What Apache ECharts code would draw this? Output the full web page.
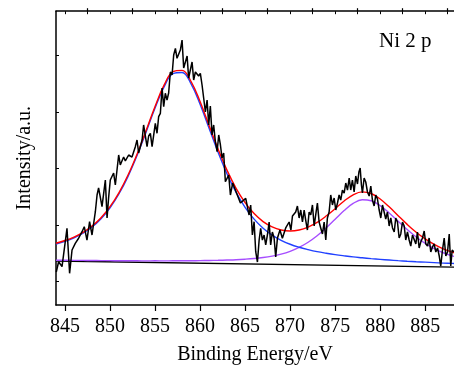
<!DOCTYPE html>
<html>
<head>
<meta charset="utf-8">
<style>
  html, body { margin: 0; padding: 0; background: #fff; }
  #chart { width: 454px; height: 370px; }
</style>
<script src="https://cdn.jsdelivr.net/npm/echarts@6.0.0/dist/echarts.min.js"></script>
</head>
<body>
<div id="chart"></div>
<script>
// Ni 2p XPS spectrum: raw counts, fitted components, linear background

// measured spectrum (binding energy in eV, intensity in a.u.)
const rawEnergy = [
  844.03, 844.29, 844.67, 845.03, 845.22, 845.51, 845.78, 846.14, 846.51, 846.89,
  847.14, 847.44, 847.73, 848.00, 848.37, 848.56, 848.73, 849.11, 849.48, 849.67,
  849.84, 850.03, 850.40, 850.59, 850.96, 851.14, 851.51, 851.70, 852.07, 852.44,
  852.81, 853.00, 853.18, 853.56, 853.73, 854.11, 854.29, 854.48, 854.67, 855.03,
  855.22, 855.40, 855.59, 855.78, 855.96, 856.14, 856.33, 856.51, 856.70, 856.89,
  857.07, 857.26, 857.44, 857.62, 857.81, 858.00, 858.18, 858.56, 858.73, 859.11,
  859.29, 859.48, 859.84, 860.03, 860.22, 860.40, 860.59, 860.78, 860.96, 861.14,
  861.33, 861.51, 861.70, 861.89, 862.07, 862.26, 862.44, 862.62, 862.81, 863.18,
  863.37, 863.62, 863.92, 864.14, 864.48, 864.70, 865.07, 865.44, 865.62, 865.81,
  866.00, 866.18, 866.37, 866.56, 866.73, 866.92, 867.11, 867.29, 867.48, 867.67,
  867.84, 868.03, 868.22, 868.40, 868.59, 868.87, 869.14, 869.51, 869.89, 870.09,
  870.26, 870.62, 870.81, 871.00, 871.18, 871.37, 871.56, 871.73, 871.92, 872.11,
  872.29, 872.48, 872.67, 872.84, 873.03, 873.22, 873.40, 873.59, 873.78, 873.96,
  874.14, 874.33, 874.51, 874.70, 874.89, 875.07, 875.26, 875.44, 875.62, 875.81,
  876.00, 876.18, 876.37, 876.56, 876.73, 876.92, 877.11, 877.29, 877.48, 877.64,
  877.78, 877.92, 878.03, 878.22, 878.40, 878.59, 878.78, 878.96, 879.14, 879.33,
  879.51, 879.70, 879.89, 880.07, 880.26, 880.44, 880.62, 880.81, 881.00, 881.18,
  881.37, 881.56, 881.73, 881.92, 882.11, 882.29, 882.48, 882.67, 882.84, 883.03,
  883.22, 883.40, 883.59, 883.78, 883.96, 884.14, 884.33, 884.51, 884.70, 884.89,
  885.07, 885.26, 885.44, 885.62, 885.81, 886.00, 886.18, 886.37, 886.56, 886.73,
  886.92, 887.11, 887.29, 887.48, 887.67, 887.84, 888.00, 888.18
];
const rawIntensity = [
  0.584, 0.766, 0.678, 1.120, 1.358, 0.561, 0.973, 1.092, 1.181, 1.297,
  1.386, 1.150, 1.474, 1.239, 1.651, 1.947, 2.071, 1.740, 2.212, 1.540,
  1.894, 2.212, 2.336, 2.124, 2.655, 2.478, 2.619, 2.549, 2.655, 2.619,
  2.802, 2.920, 2.690, 2.920, 3.186, 2.802, 2.991, 3.039, 2.802, 3.216,
  3.039, 3.333, 3.393, 3.841, 3.510, 3.747, 3.628, 3.752, 4.124, 4.071,
  4.425, 4.543, 4.366, 4.395, 4.513, 4.690, 4.195, 4.407, 4.018, 4.301,
  3.982, 4.124, 4.053, 4.101, 3.894, 3.924, 3.416, 3.628, 3.186, 3.522,
  3.009, 3.186, 2.890, 2.713, 3.009, 2.832, 2.602, 2.690, 2.182, 2.301,
  1.947, 2.159, 2.035, 2.005, 1.805, 1.770, 1.888, 1.593, 1.770, 1.239,
  1.474, 0.943, 0.761, 1.150, 1.358, 1.150, 1.239, 1.062, 1.239, 1.469,
  1.062, 1.292, 1.186, 0.850, 1.181, 1.327, 1.181, 1.363, 1.469, 1.327,
  1.575, 1.646, 1.752, 1.540, 1.681, 1.469, 1.681, 1.504, 1.327, 1.646,
  1.593, 1.770, 1.398, 1.593, 1.805, 1.469, 1.363, 1.257, 1.469, 1.150,
  1.540, 1.646, 1.947, 1.770, 1.894, 1.681, 1.805, 1.947, 1.858, 2.035,
  1.982, 2.159, 2.035, 2.248, 2.035, 2.212, 2.000, 2.283, 2.142, 2.354,
  2.425, 2.124, 1.982, 2.248, 2.177, 2.000, 1.929, 2.106, 1.858, 1.752,
  1.947, 1.876, 1.681, 1.540, 1.770, 1.752, 1.522, 1.646, 1.398, 1.540,
  1.363, 1.292, 1.540, 1.469, 1.186, 1.257, 1.469, 1.398, 1.150, 1.292,
  1.150, 1.044, 1.239, 1.221, 1.080, 1.292, 1.009, 1.115, 1.186, 1.310,
  1.080, 1.044, 1.186, 0.938, 1.027, 1.080, 0.938, 1.009, 0.867, 0.690,
  0.973, 1.186, 0.867, 0.938, 1.257, 0.690, 0.973, 0.938
];

// fitted curves, sampled every 1 eV
const fitEnergy = [
  844, 845, 846, 847, 848, 849, 850, 851, 852, 853, 854, 855, 856, 857, 858, 859,
  860, 861, 862, 863, 864, 865, 866, 867, 868, 869, 870, 871, 872, 873, 874, 875,
  876, 877, 878, 879, 880, 881, 882, 883, 884, 885, 886, 887, 888, 889
];
// Ni 2p3/2 component (blue)
const fitNi2p32 = [
  1.080, 1.127, 1.188, 1.270, 1.380, 1.527, 1.720, 1.969, 2.277, 2.645, 3.059, 3.486,
  3.860, 4.096, 4.116, 3.915, 3.555, 3.128, 2.703, 2.319, 1.993, 1.729, 1.520, 1.359,
  1.237, 1.146, 1.075, 1.022, 0.980, 0.944, 0.916, 0.891, 0.870, 0.851, 0.836, 0.821,
  0.808, 0.796, 0.785, 0.775, 0.766, 0.758, 0.750, 0.742, 0.736, 0.729
];
// Ni 2p1/2 component (violet)
const fitNi2p12 = [
  0.793, 0.792, 0.790, 0.789, 0.787, 0.786, 0.785, 0.784, 0.783, 0.782, 0.781, 0.782,
  0.781, 0.782, 0.782, 0.784, 0.785, 0.788, 0.791, 0.796, 0.802, 0.811, 0.823, 0.840,
  0.865, 0.900, 0.950, 1.019, 1.110, 1.225, 1.364, 1.517, 1.671, 1.797, 1.862, 1.845,
  1.760, 1.629, 1.481, 1.335, 1.203, 1.090, 0.998, 0.925, 0.870, 0.827
];
// cumulative fit envelope (red)
const fitEnvelope = [
  1.093, 1.141, 1.203, 1.286, 1.397, 1.545, 1.740, 1.990, 2.300, 2.669, 3.085, 3.515,
  3.891, 4.130, 4.153, 3.956, 3.600, 3.178, 2.759, 2.382, 2.065, 1.812, 1.618, 1.476,
  1.382, 1.328, 1.310, 1.328, 1.380, 1.461, 1.574, 1.705, 1.840, 1.950, 2.002, 1.973,
  1.877, 1.737, 1.580, 1.427, 1.288, 1.170, 1.072, 0.994, 0.935, 0.888
];

// linear background
const bgEnergy = [844, 889];
const bgLevel = [0.780, 0.668];

// axis ticks
const xMajorTicks = [845, 850, 855, 860, 865, 870, 875, 880, 885];
const xMinorTicks = [847.5, 852.5, 857.5, 862.5, 867.5, 872.5, 877.5, 882.5, 887.5];
const yTicks = [0.412, 1.412, 2.412, 3.412, 4.412];

const X_MIN = 844, X_MAX = 888.2;
const Y_MIN = 0, Y_MAX = 5.2;
const SERIF = '"Liberation Serif", "Times New Roman", serif';

const pair = (xs, ys) => xs.map((x, i) => [x, ys[i]]);
const axisStroke = { color: '#000', width: 1.5 };

const chart = echarts.init(document.getElementById('chart'), null, { renderer: 'canvas' });

const lineSeries = (name, xs, ys, color, smooth, width) => ({
  name, type: 'line', xAxisIndex: 0, yAxisIndex: 0,
  data: pair(xs, ys), showSymbol: false, symbol: 'none', smooth: smooth,
  lineStyle: { color: color, width: width }, itemStyle: { color: color },
  clip: true, silent: true, animation: false
});

chart.setOption({
  animation: false,
  backgroundColor: '#fff',
  grid: { left: 56, right: 0, top: 11.2, bottom: 65, containLabel: false, outerBoundsMode: 'none' },
  xAxis: [
    {
      type: 'value', position: 'bottom', min: X_MIN, max: X_MAX,
      axisLine: { show: true, onZero: false, lineStyle: axisStroke },
      axisTick: { show: true, inside: false, length: 6, customValues: xMajorTicks, lineStyle: { color: '#000', width: 1.2 } },
      axisLabel: { show: true, customValues: xMajorTicks, margin: 12, color: '#000', fontFamily: SERIF, fontSize: 20 },
      splitLine: { show: false },
      name: 'Binding Energy/eV', nameLocation: 'middle', nameGap: 40,
      nameTextStyle: { color: '#000', fontFamily: SERIF, fontSize: 20 }
    },
    {
      type: 'value', position: 'top', min: X_MIN, max: X_MAX,
      axisLine: { show: true, onZero: false, lineStyle: axisStroke },
      axisTick: { show: true, inside: true, length: 3, customValues: xMajorTicks.concat(xMinorTicks), lineStyle: { color: '#000', width: 1 } },
      axisLabel: { show: false },
      splitLine: { show: false }
    },
    {
      // requested 'top' is taken, so this axis lands on the bottom edge (minor ticks)
      type: 'value', position: 'top', min: X_MIN, max: X_MAX,
      axisLine: { show: false, onZero: false },
      axisTick: { show: true, inside: false, length: 3, customValues: xMinorTicks, lineStyle: { color: '#000', width: 1.2 } },
      axisLabel: { show: false },
      splitLine: { show: false }
    }
  ],
  yAxis: {
    type: 'value', position: 'left', min: Y_MIN, max: Y_MAX,
    axisLine: { show: true, onZero: false, lineStyle: axisStroke },
    axisTick: { show: true, inside: true, length: 3, customValues: yTicks, lineStyle: { color: '#000', width: 1 } },
    axisLabel: { show: false },
    splitLine: { show: false },
    name: 'Intensity/a.u.', nameLocation: 'middle', nameGap: 21,
    nameTextStyle: { color: '#000', fontFamily: SERIF, fontSize: 20 }
  },
  graphic: [
    {
      type: 'text', left: 379, top: 31, silent: true,
      style: { text: 'Ni 2 p', fill: '#000', font: '21px ' + SERIF }
    }
  ],
  series: [
    lineSeries('Background', bgEnergy, bgLevel, '#000000', false, 1.4),
    lineSeries('Ni 2p1/2', fitEnergy, fitNi2p12, '#a64dff', 0.4, 1.4),
    lineSeries('Ni 2p3/2', fitEnergy, fitNi2p32, '#2040ff', 0.4, 1.4),
    lineSeries('Envelope', fitEnergy, fitEnvelope, '#ff0000', 0.4, 1.4),
    lineSeries('Raw', rawEnergy, rawIntensity, '#000000', false, 1.5)
  ]
});
</script>
</body>
</html>
